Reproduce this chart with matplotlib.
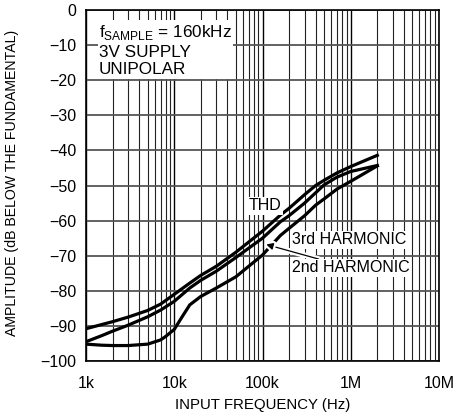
import matplotlib
matplotlib.use('Agg')
import matplotlib.pyplot as plt
import matplotlib.patheffects as pe
from matplotlib.ticker import FixedLocator, NullFormatter

plt.rcParams['font.family'] = ['Liberation Sans Narrow', 'Liberation Sans', 'DejaVu Sans']
plt.rcParams['mathtext.fontset'] = 'custom'
plt.rcParams['mathtext.rm'] = 'Liberation Sans'
plt.rcParams['font.size'] = 10.5

# data (Hz, dB)
thd_f = [1e3, 2e3, 3e3, 5e3, 7e3, 10e3, 15e3, 20e3, 30e3, 50e3, 100e3, 160e3, 200e3, 300e3, 400e3, 500e3, 700e3, 1e6, 2e6]
thd_db = [-90.8, -88.8, -87.5, -85.6, -83.8, -81, -77.8, -75.6, -73, -69, -63, -58.4, -56.5, -52.6, -50, -48.5, -46.4, -44.6, -41.4]

h2_f = [1e3, 1.5e3, 2e3, 3e3, 5e3, 7e3, 10e3, 15e3, 20e3, 30e3, 50e3, 100e3, 160e3, 200e3, 300e3, 500e3, 700e3, 1e6, 2e6]
h2_db = [-94.5, -92.8, -91.5, -89.8, -87.4, -85.5, -83, -79.2, -77, -74.4, -70.5, -65, -60.3, -58.6, -55, -49.8, -47.6, -46, -44.3]

h3_f = [1e3, 1.5e3, 2e3, 3e3, 5e3, 7e3, 8e3, 10e3, 12e3, 15e3, 20e3, 30e3, 50e3, 100e3, 160e3, 200e3, 300e3, 400e3, 500e3, 700e3, 1e6, 2e6]
h3_db = [-95.2, -95.5, -95.6, -95.6, -95.2, -94, -93, -91, -87.8, -84, -81.6, -79.2, -76, -69.8, -64.2, -62.2, -58.6, -55.6, -53.8, -51, -48.8, -44.4]

xticks = [1e3, 1e4, 1e5, 1e6, 1e7]
xticklabels = ['1k', '10k', '100k', '1M', '10M']
yticks = list(range(-100, 1, 10))
yticklabels = ['\u2212%d' % -v if v < 0 else '0' for v in yticks]

fig = plt.figure(figsize=(4.68, 4.18), dpi=100)
ax = fig.add_axes([0.1838, 0.1364, 0.7542, 0.8396])
ax.set_xscale('log')
ax.set_xlim(1e3, 1e7)
ax.set_ylim(-100, 0)

# grid
minors = [m * 10**e for e in range(3, 7) for m in range(2, 10)]
for v in minors:
    ax.axvline(v, color='#222222', lw=0.8, zorder=1)
for v in xticks:
    ax.axvline(v, color='black', lw=1.0, zorder=1)
for v in yticks:
    ax.axhline(v, color='#555555', lw=1.3, zorder=1)

ax.plot(thd_f, thd_db, color='black', lw=2.3, zorder=3)
ax.plot(h2_f, h2_db, color='black', lw=2.3, zorder=3)
ax.plot(h3_f, h3_db, color='black', lw=2.3, zorder=3)

ax.xaxis.set_major_locator(FixedLocator(xticks))
ax.xaxis.set_minor_formatter(NullFormatter())
ax.set_xticks(xticks)
ax.set_xticklabels(xticklabels)
ax.set_yticks(yticks)
ax.set_yticklabels(yticklabels)
ax.tick_params(length=0, labelsize=11.5)
ax.tick_params(axis='x', pad=11)
ax.tick_params(axis='y', pad=7)
ax.tick_params(which='minor', length=0)
for s in ax.spines.values():
    s.set_linewidth(1.2)

ax.set_xlabel('INPUT FREQUENCY (Hz)', fontsize=10.8)
ax.xaxis.set_label_coords(0.5, -0.105)
ax.set_ylabel('AMPLITUDE (dB BELOW THE FUNDAMENTAL)', fontsize=10.2)
ax.yaxis.set_label_coords(-0.19, 0.507)

box = dict(facecolor='white', edgecolor='none', pad=1.0)
ax.text(1.4e3, -3.8, 'f$_{\\mathrm{SAMPLE}}$ = 160kHz\n3V SUPPLY\nUNIPOLAR',
        fontsize=12.3, va='top', ha='left', linespacing=1.2, bbox=box, zorder=4)
ax.text(1.08e5, -55.8, 'THD', fontsize=11.5, ha='center', va='center', bbox=box, zorder=4)
ax.text(2.15e5, -65.5, '3rd HARMONIC', fontsize=11.5, ha='left', va='center', bbox=box, zorder=4)
ann = ax.annotate('2nd HARMONIC', xy=(1.1e5, -66.8), xytext=(2.15e5, -73.5),
                  fontsize=11.5, ha='left', va='center', bbox=box, zorder=4,
                  arrowprops=dict(arrowstyle='-|>', color='black', lw=0.9, shrinkA=0, shrinkB=0,
                                  mutation_scale=10))
ann.arrow_patch.set_path_effects([pe.withStroke(linewidth=4, foreground='white')])

fig.savefig('out.png', dpi=100)
